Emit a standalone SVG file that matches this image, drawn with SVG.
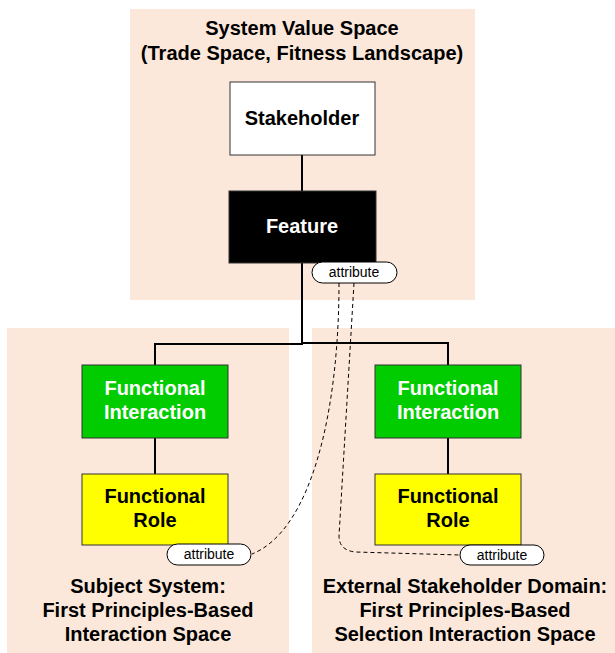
<svg xmlns="http://www.w3.org/2000/svg" width="615" height="653" viewBox="0 0 615 653">
  <style>
    .panel { fill: #FCE8DA; }
    .box { stroke: #333333; stroke-width: 1; }
    .wire { fill: none; stroke: #000000; stroke-width: 2; }
    .dash { fill: none; stroke: #000000; stroke-width: 1; stroke-dasharray: 4 3; }
    .pill { fill: #FFFFFF; stroke: #000000; stroke-width: 1; }
    .t { font-family: "Liberation Sans", Arial, sans-serif; font-weight: bold; font-size: 20px; text-anchor: middle; }
    .a { font-family: "Liberation Sans", Arial, sans-serif; font-size: 14px; text-anchor: middle; fill: #000000; }
  </style>

  <!-- background regions -->
  <g id="value-space">
    <rect class="panel" x="130" y="9" width="345" height="291"/>
    <text class="t" x="302" y="35">System Value Space</text>
    <text class="t" x="302" y="60">(Trade Space, Fitness Landscape)</text>
  </g>
  <g id="subject-system">
    <rect class="panel" x="7" y="328" width="282" height="325"/>
    <text class="t" x="148" y="593">Subject System:</text>
    <text class="t" x="148" y="617">First Principles-Based</text>
    <text class="t" x="148" y="641">Interaction Space</text>
  </g>
  <g id="external-domain">
    <rect class="panel" x="312" y="328" width="303" height="325"/>
    <text class="t" x="465" y="593">External Stakeholder Domain:</text>
    <text class="t" x="465" y="617">First Principles-Based</text>
    <text class="t" x="465" y="641">Selection Interaction Space</text>
  </g>

  <!-- connectors -->
  <g id="connectors">
    <line class="wire" x1="302" y1="155" x2="302" y2="191"/>
    <polyline class="wire" points="302,263 302,344 155,344 155,365"/>
    <polyline class="wire" points="302,343 448,343 448,365"/>
    <line class="wire" x1="155" y1="438" x2="155" y2="474"/>
    <line class="wire" x1="448" y1="438" x2="448" y2="474"/>
    <path class="dash" d="M339,283 C339,410 312,530 252,554"/>
    <path class="dash" d="M354,283 L339,536 Q339,550 355,552 L460,555"/>
  </g>

  <!-- nodes -->
  <g id="stakeholder">
    <rect class="box" x="230" y="82" width="145" height="73" fill="#FFFFFF"/>
    <text class="t" x="302" y="125" fill="#000000">Stakeholder</text>
  </g>
  <g id="feature">
    <rect class="box" x="229" y="191" width="147" height="72" fill="#000000"/>
    <text class="t" x="302" y="233" fill="#FFFFFF">Feature</text>
  </g>
  <g id="feature-attribute">
    <rect class="pill" x="312" y="262" width="85" height="21" rx="10.5"/>
    <text class="a" x="354" y="277">attribute</text>
  </g>
  <g id="interaction-left">
    <rect class="box" x="82" y="365" width="146" height="73" fill="#00CC00"/>
    <text class="t" x="155" y="395" fill="#FFFFFF">Functional</text>
    <text class="t" x="155" y="419" fill="#FFFFFF">Interaction</text>
  </g>
  <g id="interaction-right">
    <rect class="box" x="375" y="365" width="146" height="73" fill="#00CC00"/>
    <text class="t" x="448" y="395" fill="#FFFFFF">Functional</text>
    <text class="t" x="448" y="419" fill="#FFFFFF">Interaction</text>
  </g>
  <g id="role-left">
    <rect class="box" x="82" y="474" width="146" height="71" fill="#FFFF00"/>
    <text class="t" x="155" y="503" fill="#000000">Functional</text>
    <text class="t" x="155" y="527" fill="#000000">Role</text>
  </g>
  <g id="role-right">
    <rect class="box" x="375" y="474" width="146" height="71" fill="#FFFF00"/>
    <text class="t" x="448" y="503" fill="#000000">Functional</text>
    <text class="t" x="448" y="527" fill="#000000">Role</text>
  </g>
  <g id="role-left-attribute">
    <rect class="pill" x="167" y="544" width="84" height="21" rx="10.5"/>
    <text class="a" x="209" y="559">attribute</text>
  </g>
  <g id="role-right-attribute">
    <rect class="pill" x="460" y="545" width="84" height="20" rx="10"/>
    <text class="a" x="502" y="560">attribute</text>
  </g>
</svg>
